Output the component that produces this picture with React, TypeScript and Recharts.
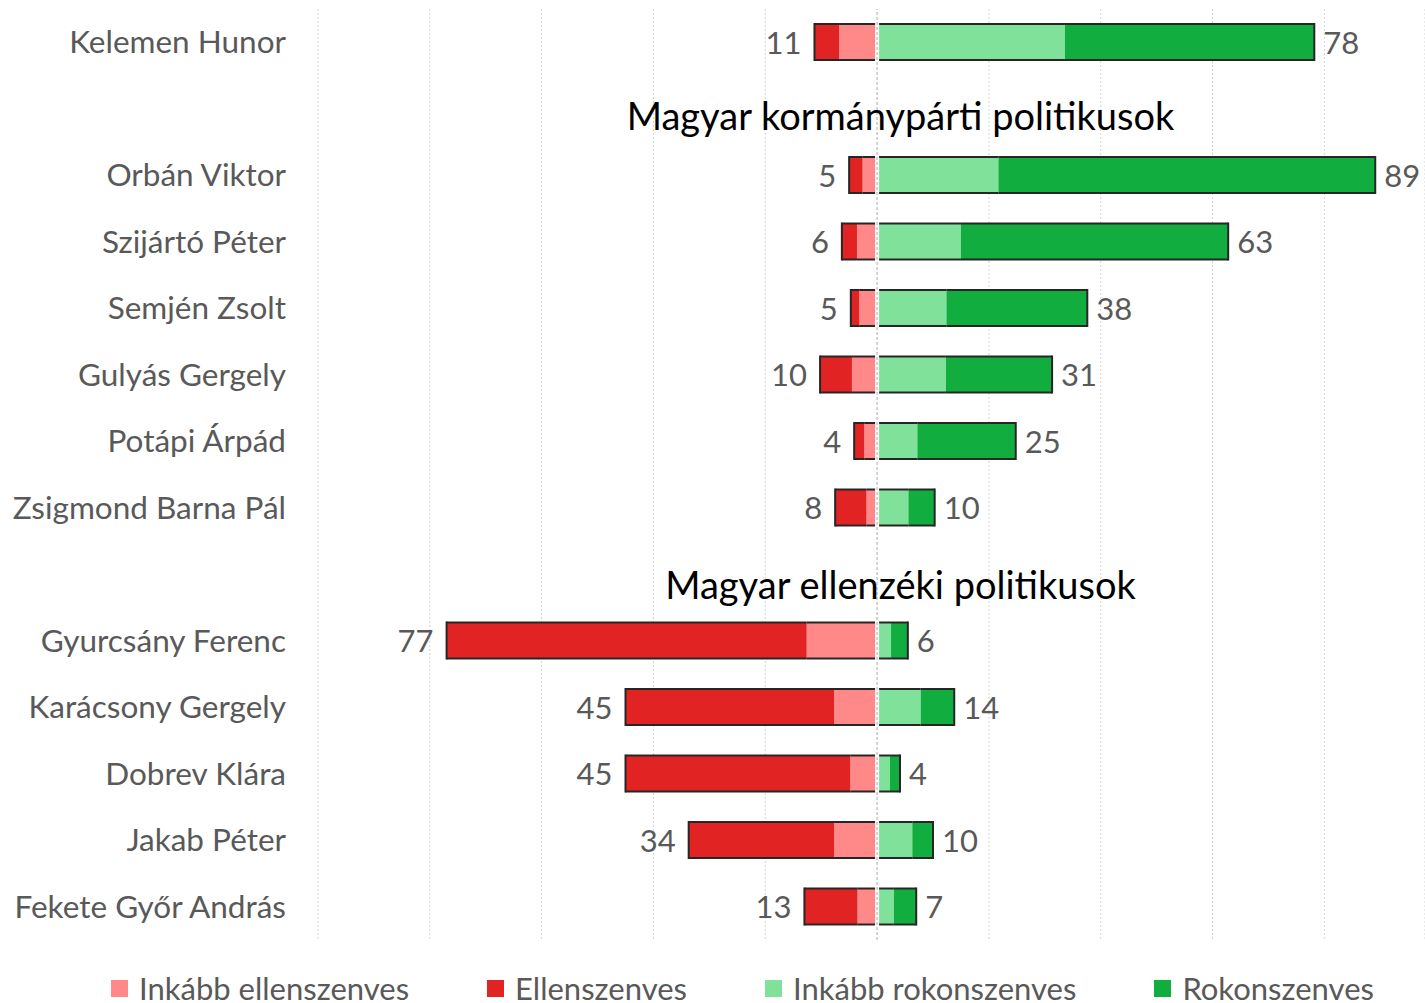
import { BarChart, Bar, XAxis, YAxis, CartesianGrid, Legend, LabelList, ReferenceLine } from "recharts"

const HEADING_GOV = "Magyar kormánypárti politikusok"
const HEADING_OPP = "Magyar ellenzéki politikusok"
const headings = [HEADING_GOV, HEADING_OPP]

const categories = [
  "Kelemen Hunor",
  HEADING_GOV,
  "Orbán Viktor",
  "Szijártó Péter",
  "Semjén Zsolt",
  "Gulyás Gergely",
  "Potápi Árpád",
  "Zsigmond Barna Pál",
  HEADING_OPP,
  "Gyurcsány Ferenc",
  "Karácsony Gergely",
  "Dobrev Klára",
  "Jakab Péter",
  "Fekete Győr András",
]

// percentages (null = heading row)
const inkabbEllenszenves = [6.8, null, 2.6, 3.6, 3.2, 4.5, 2.3, 1.9, null, 12.6, 7.7, 4.8, 7.7, 3.5]
const ellenszenves = [4.4, null, 2.4, 2.7, 1.5, 5.7, 1.8, 5.6, null, 64.4, 37.3, 40.2, 26.0, 9.5]
const inkabbRokonszenves = [33.6, null, 21.7, 15.0, 12.4, 12.3, 7.2, 5.6, null, 2.5, 7.8, 2.3, 6.3, 3.0]
const rokonszenves = [44.6, null, 67.4, 47.8, 25.2, 19.0, 17.6, 4.7, null, 3.0, 6.0, 1.8, 3.7, 4.0]
const negTotals = [11, null, 5, 6, 5, 10, 4, 8, null, 77, 45, 45, 34, 13]
const posTotals = [78, null, 89, 63, 38, 31, 25, 10, null, 6, 14, 4, 10, 7]

const gridTicks = [-100, -80, -60, -40, -20, 0, 20, 40, 60, 80]

const series = [
  { key: "inkabbEllen", name: "Inkább ellenszenves", color: "#FF8888", side: "neg", outer: false },
  { key: "ellen", name: "Ellenszenves", color: "#E12323", side: "neg", outer: true },
  { key: "inkabbRokon", name: "Inkább rokonszenves", color: "#80E29A", side: "pos", outer: false },
  { key: "rokon", name: "Rokonszenves", color: "#11AD3F", side: "pos", outer: true },
]

const neg = (v: number | null) => (v == null ? null : -v)

const data = categories.map((name, i) => ({
  name,
  inkabbEllen: neg(inkabbEllenszenves[i]),
  ellen: neg(ellenszenves[i]),
  inkabbRokon: inkabbRokonszenves[i],
  rokon: rokonszenves[i],
  negTotal: negTotals[i],
  posTotal: posTotals[i],
}))

const FONT = "Lato, 'Open Sans', sans-serif"
const TEXT_GRAY = "#595959"
const OUTLINE = "#262626"

function Segment(props: any) {
  const { x, y, width, height, fill, side, outer } = props
  if (!width || !height) return <g />
  const left = Math.min(x, x + width)
  const w = Math.abs(width)
  const right = left + w
  const edge = side === "neg" ? left : right
  return (
    <g>
      <rect x={left} y={y} width={w} height={height} fill={fill} />
      <line x1={left} x2={right} y1={y} y2={y} stroke={OUTLINE} strokeWidth={2} />
      <line x1={left} x2={right} y1={y + height} y2={y + height} stroke={OUTLINE} strokeWidth={2} />
      {outer && (
        <line x1={edge} x2={edge} y1={y - 1} y2={y + height + 1} stroke={OUTLINE} strokeWidth={2} />
      )}
    </g>
  )
}

const totalLabel = (side: string) => (props: any) => {
  const { value } = props
  const vb = props.viewBox ?? props
  if (value == null || !vb) return <g />
  const { x, y, width, height } = vb
  const l = Math.min(x, x + width)
  const r = Math.max(x, x + width)
  return (
    <text
      x={side === "neg" ? l - 13 : r + 9}
      y={y + height / 2}
      dy="0.38em"
      textAnchor={side === "neg" ? "end" : "start"}
      fill={TEXT_GRAY}
      fontSize={31}
      fontFamily={FONT}
    >
      {value}
    </text>
  )
}

function LegendContent() {
  return (
    <div
      style={{
        display: "flex",
        justifyContent: "center",
        gap: 78,
        paddingLeft: 60,
        height: 40,
        alignItems: "center",
        fontFamily: FONT,
        fontSize: 31,
        color: TEXT_GRAY,
      }}
    >
      {series.map((s) => (
        <div key={s.key} style={{ display: "flex", alignItems: "center", gap: 11 }}>
          <span style={{ display: "inline-block", width: 17, height: 17, background: s.color }} />
          <span>{s.name}</span>
        </div>
      ))}
    </div>
  )
}

export default function App() {
  return (
    <div style={{ position: "absolute", left: 0, top: 0, width: 1425, height: 1003, background: "#fff" }}>
      <BarChart
        width={1425}
        height={1003}
        data={data}
        layout="vertical"
        stackOffset="sign"
        barSize={36}
        margin={{ top: 9, right: 0, bottom: 23, left: 0 }}
        style={{ fontFamily: FONT }}
      >
        <CartesianGrid horizontal={false} stroke="#d4d4d4" strokeDasharray="2 2" />
        <XAxis type="number" domain={[-100, 98]} ticks={gridTicks} hide />
        <YAxis
          type="category"
          dataKey="name"
          width={318}
          tickLine={false}
          axisLine={false}
          tickSize={0}
          tickMargin={32}
          interval={0}
          tick={{ fontSize: 31.5, fill: TEXT_GRAY, fontFamily: FONT }}
          tickFormatter={(v: string) => (headings.includes(v) ? "" : v)}
        />
        {series.map((s) => (
          <Bar
            key={s.key}
            dataKey={s.key}
            name={s.name}
            stackId="a"
            fill={s.color}
            isAnimationActive={false}
            shape={(p: any) => <Segment {...p} side={s.side} outer={s.outer} />}
          >
            {s.key === "ellen" && <LabelList dataKey="negTotal" content={totalLabel("neg")} />}
            {s.key === "rokon" && <LabelList dataKey="posTotal" content={totalLabel("pos")} />}
          </Bar>
        ))}
        <ReferenceLine x={0} stroke="#ffffff" strokeWidth={4} />
        <ReferenceLine x={0} stroke="#c8c8c8" strokeWidth={1.5} strokeDasharray="3 2" />
        {headings.map((h, i) => (
          <ReferenceLine
            key={h}
            y={h}
            stroke="none"
            label={{
              value: h,
              position: "center",
              dx: 29,
              dy: i === 0 ? 8 : 11,
              fill: "#000",
              fontSize: 38,
              fontFamily: FONT,
            }}
          />
        ))}
        <Legend
          verticalAlign="bottom"
          height={40}
          wrapperStyle={{ top: 968, bottom: "auto", left: 0, width: 1425 }}
          content={() => <LegendContent />}
        />
      </BarChart>
    </div>
  )
}
